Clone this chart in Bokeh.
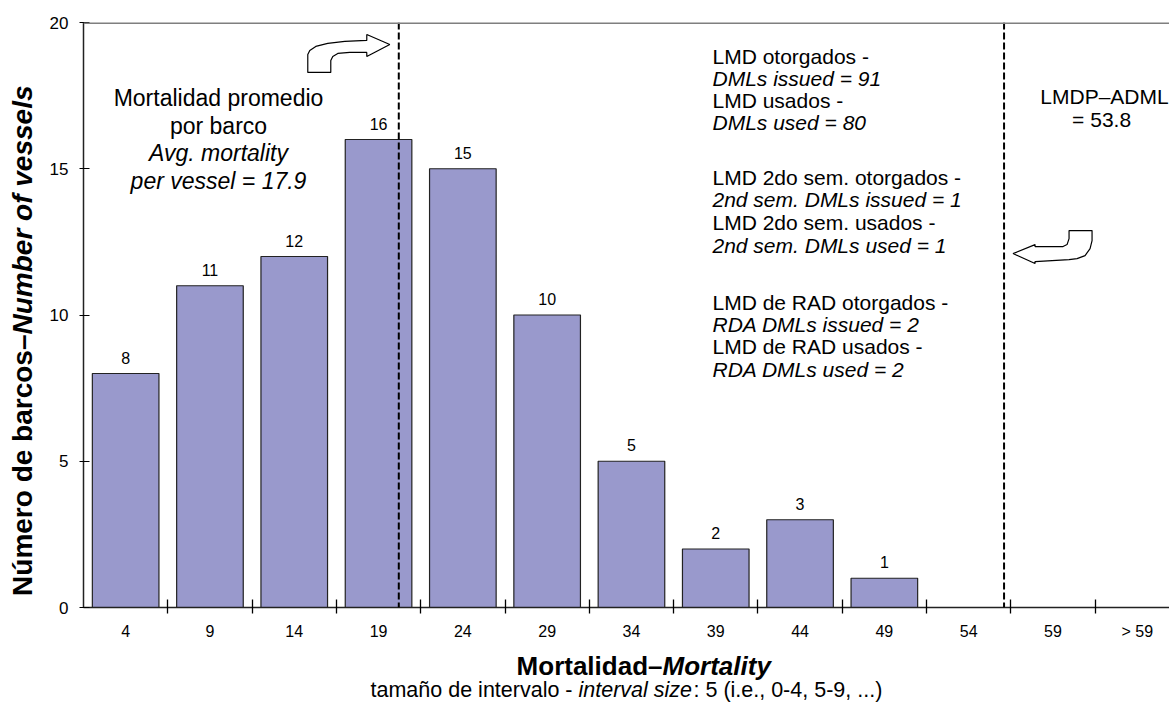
import numpy as np
from bokeh.plotting import figure
from bokeh.layouts import column, row
from bokeh.models import ColumnDataSource, Range1d, FixedTicker, Span, Label, LabelSet
from bokeh.core.properties import value
from bokeh.embed import file_html
from bokeh.resources import INLINE

# ---------------- data ----------------
bins = ["4", "9", "14", "19", "24", "29", "34", "39", "44", "49", "54", "59", "> 59"]
vessels = [8, 11, 12, 16, 15, 10, 5, 2, 3, 1, 0, 0, 0]
avg_mortality = 17.9
adml = 53.8
interval = 5
y_ticks = [0, 5, 10, 15, 20]

left_block = ["Mortalidad promedio", "por barco", "Avg. mortality", "per vessel = 17.9"]
left_styles = ["normal", "normal", "italic", "italic"]
right_block = ["LMD otorgados -", "DMLs issued  = 91", "LMD usados -", "DMLs used    =  80",
               "LMD 2do sem. otorgados -", "2nd sem. DMLs issued  = 1",
               "LMD 2do sem. usados -", "2nd sem. DMLs used    =  1",
               "LMD de RAD otorgados -", "RDA DMLs issued  = 2",
               "LMD de RAD usados -", "RDA DMLs used    =  2"]
right_styles = ["normal", "italic"] * 6
adml_block = ["LMDP\u2013ADML", "=  53.8"]

# ---------------- layout ----------------
FONT = "Liberation Sans"
TOTAL_W, TOTAL_H = 1169, 704
YL_W = 40                      # strip for the y-axis title
MAIN_W = TOTAL_W - YL_W
MAIN_H = 645
BOT_H = TOTAL_H - MAIN_H       # strip for the x-axis titles
FRAME_L, FRAME_T, FRAME_B = 83, 22, 607   # window coordinates of the plot frame
LEFT = FRAME_L - YL_W
TOP = FRAME_T
BOTTOM = MAIN_H - FRAME_B
FW = MAIN_W - LEFT
FH = MAIN_H - TOP - BOTTOM
XPX = 84.3
XMAX = FW / XPX
YPX = FH / 20.0


def bare(w, h):
    f = figure(width=w, height=h, output_backend="svg", toolbar_location=None,
               x_axis_type=None, y_axis_type=None, x_range=Range1d(0, w),
               y_range=Range1d(0, h), min_border=0)
    f.outline_line_color = None
    f.xgrid.visible = False
    f.ygrid.visible = False
    return f


p = figure(width=MAIN_W, height=MAIN_H, output_backend="svg", toolbar_location=None,
           x_range=Range1d(0, XMAX), y_range=Range1d(0, 20),
           min_border_left=LEFT, min_border_right=0, min_border_top=TOP,
           min_border_bottom=BOTTOM)
p.outline_line_color = None
p.xgrid.visible = False
p.ygrid.visible = False

centers = np.arange(len(bins)) + 0.5
src = ColumnDataSource(dict(x=centers, top=vessels,
                            lab=[str(v) if v > 0 else "" for v in vessels]))
p.vbar(x="x", top="top", bottom=0, width=0.79, source=src,
       fill_color="#9999CC", line_color="#222222", line_width=1.2)

p.add_layout(LabelSet(x="x", y="top", text="lab", source=src, text_align="center",
                      text_baseline="bottom", y_offset=10, text_font=value(FONT),
                      text_font_size="16px", text_color="black"))

# reference lines
line1 = (avg_mortality + 0.8) / interval
line2 = (adml + 0.8) / interval
for loc in (line1, line2):
    p.add_layout(Span(location=loc, dimension="height", line_color="black",
                      line_width=2, line_dash="7 3"))
p.add_layout(Span(location=20, dimension="width", line_color="#7f7f7f", line_width=3))

# curved block arrows (shape offsets in px relative to the tip)
arrow1 = [(0, 0), (-23, -10), (-23, -4), (-45, -3), (-62, -1), (-74, 2), (-80, 6),
          (-82, 10), (-82, 28), (-59, 28), (-59, 16), (-57, 12), (-52, 9), (-40, 8),
          (-23, 8), (-23, 12)]
arrow2 = [(0, 0), (22, -9), (22, -7), (50, -7), (54, -9), (56, -15), (56, -23),
          (79, -23), (79, -13), (77, -5), (72, 2), (64, 5), (56, 6), (22, 8), (22, 10)]


def draw_arrow(shape, tip_x, tip_y):
    xs = [tip_x + dx / XPX for dx, dy in shape]
    ys = [tip_y - dy / YPX for dx, dy in shape]
    p.patch(xs, ys, fill_color="white", line_color="black", line_width=1.2)


draw_arrow(arrow1, line1 - 9 / XPX, 19.25)
draw_arrow(arrow2, line2 + 9 / XPX, 12.10)

# axes
p.xaxis.ticker = FixedTicker(ticks=list(centers), minor_ticks=list(range(1, len(bins))))
p.xaxis.major_label_overrides = {float(c): b for c, b in zip(centers, bins)}
p.xaxis.major_tick_line_color = None
p.xaxis.major_tick_in = 0
p.xaxis.major_tick_out = 0
p.xaxis.minor_tick_in = 8
p.xaxis.minor_tick_out = 6
p.xaxis.minor_tick_line_color = "black"
p.xaxis.minor_tick_line_width = 1.3
p.xaxis.axis_line_color = "#222222"
p.xaxis.axis_line_width = 1.5
p.xaxis.major_label_standoff = 9
p.xaxis.major_label_text_font = FONT
p.xaxis.major_label_text_font_size = "16px"
p.xaxis.major_label_text_color = "black"

p.yaxis.ticker = FixedTicker(ticks=y_ticks)
p.yaxis.minor_tick_line_color = None
p.yaxis.major_tick_in = 6
p.yaxis.major_tick_out = 4
p.yaxis.major_tick_line_color = "black"
p.yaxis.axis_line_color = "#222222"
p.yaxis.axis_line_width = 1.5
p.yaxis.major_label_standoff = 11
p.yaxis.major_label_text_font = FONT
p.yaxis.major_label_text_font_size = "17px"
p.yaxis.major_label_text_color = "black"


def lab(fig, text, x, y, size, style="normal", align="left", angle=0.0):
    fig.add_layout(Label(x=x, y=y, x_units="screen", y_units="screen",
                         text=text, text_font=FONT, text_font_size=size,
                         text_font_style=style, text_align=align,
                         text_baseline="middle", angle=angle, text_color="black"))


# in-plot text blocks (window coords -> frame-relative)
def inplot(text, wx, wy, size, style, align):
    lab(p, text, wx - FRAME_L, FRAME_B - wy, size, style, align)


for t, s, wy in zip(left_block, left_styles, [97, 125, 152, 180]):
    inplot(t, 218, wy, "23px", s, "center")
right_y = [56, 78, 100, 122, 177, 199, 222, 245, 302, 324, 346, 369]
for t, s, wy in zip(right_block, right_styles, right_y):
    inplot(t, 712, wy, "21px", s, "left")
for t, wy in zip(adml_block, [96, 119]):
    inplot(t, 1104, wy, "21px", "normal", "center")

# y-axis title strip
ylab = bare(YL_W, MAIN_H)
lab(ylab, "Número de barcos\u2013", 22, MAIN_H - 372, "28px", "bold", "right", np.pi / 2)
lab(ylab, "Number of vessels", 22, MAIN_H - 372, "28px", "bold italic", "left", np.pi / 2)

# x-axis title strip
bot = bare(TOTAL_W, BOT_H)
def botlab(text, wx, wy, size, style, align):
    lab(bot, text, wx, TOTAL_H - wy, size, style, align)

botlab("Mortalidad\u2013", 662, 665, "26px", "bold", "right")
botlab("Mortality", 662, 665, "26px", "bold italic", "left")
botlab("tamaño de intervalo -", 572, 689, "21.5px", "normal", "right")
botlab("interval size", 578, 689, "21.5px", "italic", "left")
botlab(": 5 (i.e., 0-4, 5-9, ...)", 693, 689, "21.5px", "normal", "left")

layout = column(row(ylab, p, spacing=0), bot, spacing=0)
open("out.html", "w").write(file_html(layout, INLINE))
